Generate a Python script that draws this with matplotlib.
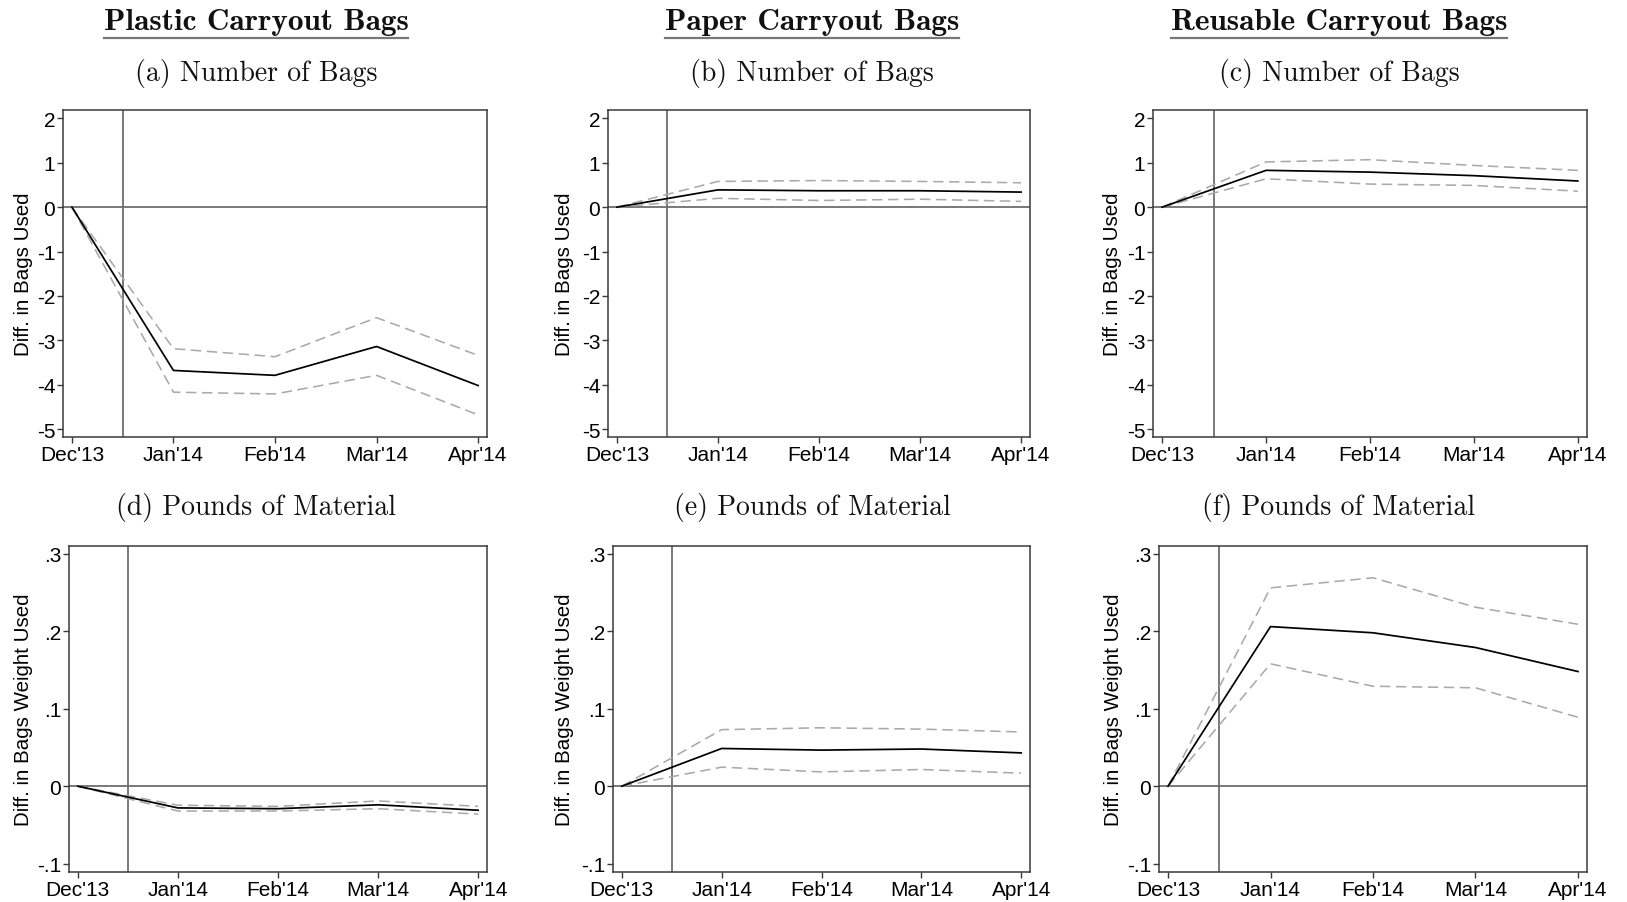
import matplotlib
matplotlib.use("Agg")
import matplotlib.pyplot as plt
from matplotlib import font_manager
from matplotlib.lines import Line2D

# Use the regular-width Liberation Sans face (avoid the Narrow variant)
sans_files = [f.fname for f in font_manager.fontManager.ttflist
              if f.name == 'Liberation Sans' and 'Narrow' not in f.fname
              and f.weight in (400, 'normal') and f.style == 'normal']
if sans_files:
    font_manager.fontManager.addfont(sans_files[0])
    sans_name = font_manager.FontProperties(fname=sans_files[0]).get_name()
else:
    sans_name = 'DejaVu Sans'

plt.rcParams['axes.unicode_minus'] = False
plt.rcParams['font.family'] = [sans_name, 'DejaVu Sans']
plt.rcParams['font.stretch'] = 'normal'

# ---- data -------------------------------------------------------------
months = ["Dec'13", "Jan'14", "Feb'14", "Mar'14", "Apr'14"]
policy_x = 0.5  # vertical marker between Dec'13 and Jan'14

column_titles = ["Plastic Carryout Bags", "Paper Carryout Bags", "Reusable Carryout Bags"]
panel_titles = ["(a) Number of Bags", "(b) Number of Bags", "(c) Number of Bags",
                "(d) Pounds of Material", "(e) Pounds of Material", "(f) Pounds of Material"]

# Number of bags: estimate, upper and lower confidence bounds
plastic_n = [0, -3.68, -3.79, -3.14, -4.02]
plastic_n_hi = [0, -3.19, -3.37, -2.49, -3.34]
plastic_n_lo = [0, -4.17, -4.21, -3.79, -4.68]

paper_n = [0, 0.39, 0.37, 0.37, 0.34]
paper_n_hi = [0, 0.58, 0.60, 0.58, 0.55]
paper_n_lo = [0, 0.20, 0.15, 0.18, 0.13]

reuse_n = [0, 0.83, 0.79, 0.71, 0.59]
reuse_n_hi = [0, 1.02, 1.07, 0.94, 0.83]
reuse_n_lo = [0, 0.64, 0.52, 0.49, 0.36]

# Pounds of material
plastic_w = [0, -0.028, -0.029, -0.024, -0.031]
plastic_w_hi = [0, -0.0245, -0.026, -0.019, -0.026]
plastic_w_lo = [0, -0.032, -0.032, -0.029, -0.036]

paper_w = [0, 0.0487, 0.0466, 0.048, 0.043]
paper_w_hi = [0, 0.073, 0.0754, 0.0737, 0.070]
paper_w_lo = [0, 0.0246, 0.0185, 0.0216, 0.0168]

reuse_w = [0, 0.206, 0.198, 0.179, 0.148]
reuse_w_hi = [0, 0.256, 0.269, 0.231, 0.209]
reuse_w_lo = [0, 0.158, 0.129, 0.127, 0.089]

count_ticks = [2, 1, 0, -1, -2, -3, -4, -5]
count_labels = ["2", "1", "0", "-1", "-2", "-3", "-4", "-5"]
weight_ticks = [0.3, 0.2, 0.1, 0.0, -0.1]
weight_labels = [".3", ".2", ".1", "0", "-.1"]

panels = [
    (plastic_n, plastic_n_hi, plastic_n_lo),
    (paper_n, paper_n_hi, paper_n_lo),
    (reuse_n, reuse_n_hi, reuse_n_lo),
    (plastic_w, plastic_w_hi, plastic_w_lo),
    (paper_w, paper_w_hi, paper_w_lo),
    (reuse_w, reuse_w_hi, reuse_w_lo),
]

# ---- layout (pixels) ----------------------------------------------------
W, H = 1627, 903
fig = plt.figure(figsize=(W / 100, H / 100), dpi=100)

# (left, right, top, bottom) of each plot region
boxes = [
    (63, 487, 111, 438), (608, 1030, 111, 438), (1153, 1587, 111, 438),
    (69, 487, 547, 873), (613, 1030, 547, 873), (1159, 1587, 547, 873),
]
ylabel_right = [33, 574, 1122, 33, 574, 1123]
col_centers = [256, 812, 1339]
subtitle_y = [73, 73, 73, 508, 508, 508]

frame_col = '#3a3a3a'
ref_col = '#6e6e6e'

for i, ((l, r, t, b), (est, hi, lo)) in enumerate(zip(boxes, panels)):
    ax = fig.add_axes([l / W, 1 - b / H, (r - l) / W, (b - t) / H])
    x = list(range(len(months)))
    ax.axhline(0, color=ref_col, lw=1.3, zorder=1)
    ax.axvline(policy_x, color=ref_col, lw=1.3, zorder=1)
    ax.plot(x, hi, color='#aaaaaa', lw=1.15, dashes=(6.5, 3.5), zorder=2)
    ax.plot(x, lo, color='#aaaaaa', lw=1.15, dashes=(6.5, 3.5), zorder=2)
    ax.plot(x, est, color='black', lw=1.25, zorder=3)

    pad = 0.088
    ax.set_xlim(-pad, 4 + pad)
    ax.set_xticks(x)
    ax.set_xticklabels(months)
    if i < 3:
        ax.set_ylim(-5.18, 2.19)
        ax.set_yticks(count_ticks)
        ax.set_yticklabels(count_labels)
        ax.set_ylabel("Diff. in Bags Used", fontsize=14.8)
    else:
        ax.set_ylim(-0.1107, 0.31)
        ax.set_yticks(weight_ticks)
        ax.set_yticklabels(weight_labels)
        ax.set_ylabel("Diff. in Bags Weight Used", fontsize=14.8)
    ax.yaxis.set_label_coords((ylabel_right[i] - l) / (r - l), 0.5)

    for sp in ax.spines.values():
        sp.set_color(frame_col)
        sp.set_linewidth(1.1)
    ax.tick_params(axis='both', direction='out', length=4, width=1.0,
                   color=frame_col, labelsize=15, pad=1.5)

    fig.text(col_centers[i % 3] / W, 1 - subtitle_y[i] / H, panel_titles[i],
             family='cmr10', fontsize=20, ha='center', va='center', color='#111111')

# column headers, underlined
headers = []
for j, title in enumerate(column_titles):
    txt = fig.text(col_centers[j] / W, 1 - 22 / H, title, family='cmb10',
                   fontsize=22.5, ha='center', va='center', color='#111111')
    headers.append(txt)

fig.canvas.draw()
renderer = fig.canvas.get_renderer()
for txt in headers:
    bb = txt.get_window_extent(renderer)
    fig.add_artist(Line2D([bb.x0 / W, bb.x1 / W], [1 - 39 / H, 1 - 39 / H],
                          transform=fig.transFigure, color='#777777', lw=1.6))

fig.savefig("out.png", dpi=100)
